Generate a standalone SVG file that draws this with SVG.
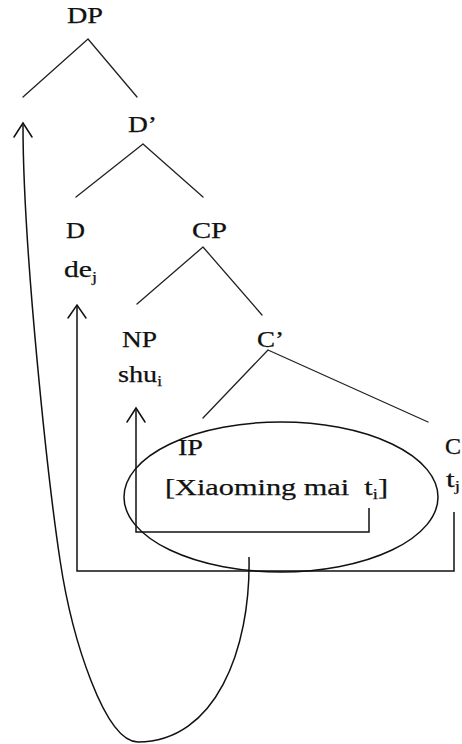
<svg xmlns="http://www.w3.org/2000/svg" width="462" height="744" viewBox="0 0 462 744">
  <style>
    .lbl { font-family: "Liberation Serif", "Times New Roman", serif; font-size: 23px; fill: #111; stroke: #111; stroke-width: 0.25; white-space: pre; }
    .sub { font-size: 14px; }
    .branch { stroke: #222; stroke-width: 1.3; fill: none; stroke-linecap: round; }
    .move { stroke: #111; stroke-width: 1.5; fill: none; }
    .head { stroke: #111; stroke-width: 1.5; fill: none; stroke-linecap: round; stroke-linejoin: miter; }
  </style>
  <rect width="462" height="744" fill="#fff"/>

  <!-- tree branches -->
  <g id="branches">
    <path class="branch" d="M88,39 L23,97 M88,39 L137,97"/>
    <path class="branch" d="M143,144 L76,197 M143,144 L203,197"/>
    <path class="branch" d="M203,247 L137,304 M203,247 L262,315"/>
    <path class="branch" d="M268,350 L203,418 M268,350 L428,422"/>
  </g>

  <g id="DP"><text class="lbl" x="67" y="23" textLength="36" lengthAdjust="spacingAndGlyphs">DP</text></g>
  <g id="Dbar"><text class="lbl" x="128" y="132" textLength="29" lengthAdjust="spacingAndGlyphs">D’</text></g>
  <g id="D">
    <text class="lbl" x="66" y="238" textLength="19" lengthAdjust="spacingAndGlyphs">D</text>
    <text class="lbl" x="64" y="277" textLength="33" lengthAdjust="spacingAndGlyphs">de<tspan class="sub" dy="5">j</tspan></text>
  </g>
  <g id="CP"><text class="lbl" x="192" y="238" textLength="35" lengthAdjust="spacingAndGlyphs">CP</text></g>
  <g id="NP">
    <text class="lbl" x="122" y="347" textLength="35" lengthAdjust="spacingAndGlyphs">NP</text>
    <text class="lbl" x="118" y="382" textLength="44" lengthAdjust="spacingAndGlyphs">shu<tspan class="sub" dy="4">i</tspan></text>
  </g>
  <g id="Cbar"><text class="lbl" x="257" y="347" textLength="27" lengthAdjust="spacingAndGlyphs">C’</text></g>
  <g id="IP">
    <ellipse cx="281" cy="497" rx="157" ry="75" fill="none" stroke="#111" stroke-width="1.5"/>
    <text class="lbl" x="178" y="455" textLength="25" lengthAdjust="spacingAndGlyphs">IP</text>
    <text class="lbl" x="165" y="495" textLength="223" lengthAdjust="spacingAndGlyphs">[Xiaoming mai  t<tspan class="sub" dy="4">i</tspan><tspan dy="-4">]</tspan></text>
  </g>
  <g id="C">
    <text class="lbl" x="445" y="454" textLength="16" lengthAdjust="spacingAndGlyphs">C</text>
    <text class="lbl" x="446" y="487" textLength="14" lengthAdjust="spacingAndGlyphs">t<tspan class="sub" dy="4">j</tspan></text>
  </g>

  <!-- movement connectors -->
  <g id="connectors">
    <!-- t_i to NP -->
    <path class="move" d="M369,508 L369,532 L136,532 L136,409"/>
    <path class="head" d="M127,422 L136,408 L145,422"/>
    <!-- t_j to D -->
    <path class="move" d="M454,512 L454,571 L77,571 L77,306"/>
    <path class="head" d="M68,318 L77,305 L86,318"/>
    <!-- IP to DP specifier -->
    <path class="move" d="M249,557 C251,650 215,742 138,742 C105,742 72,640 60,560 C48,480 23,250 23,125"/>
    <path class="head" d="M14,137 L23,123 L32,137"/>
  </g>
</svg>
